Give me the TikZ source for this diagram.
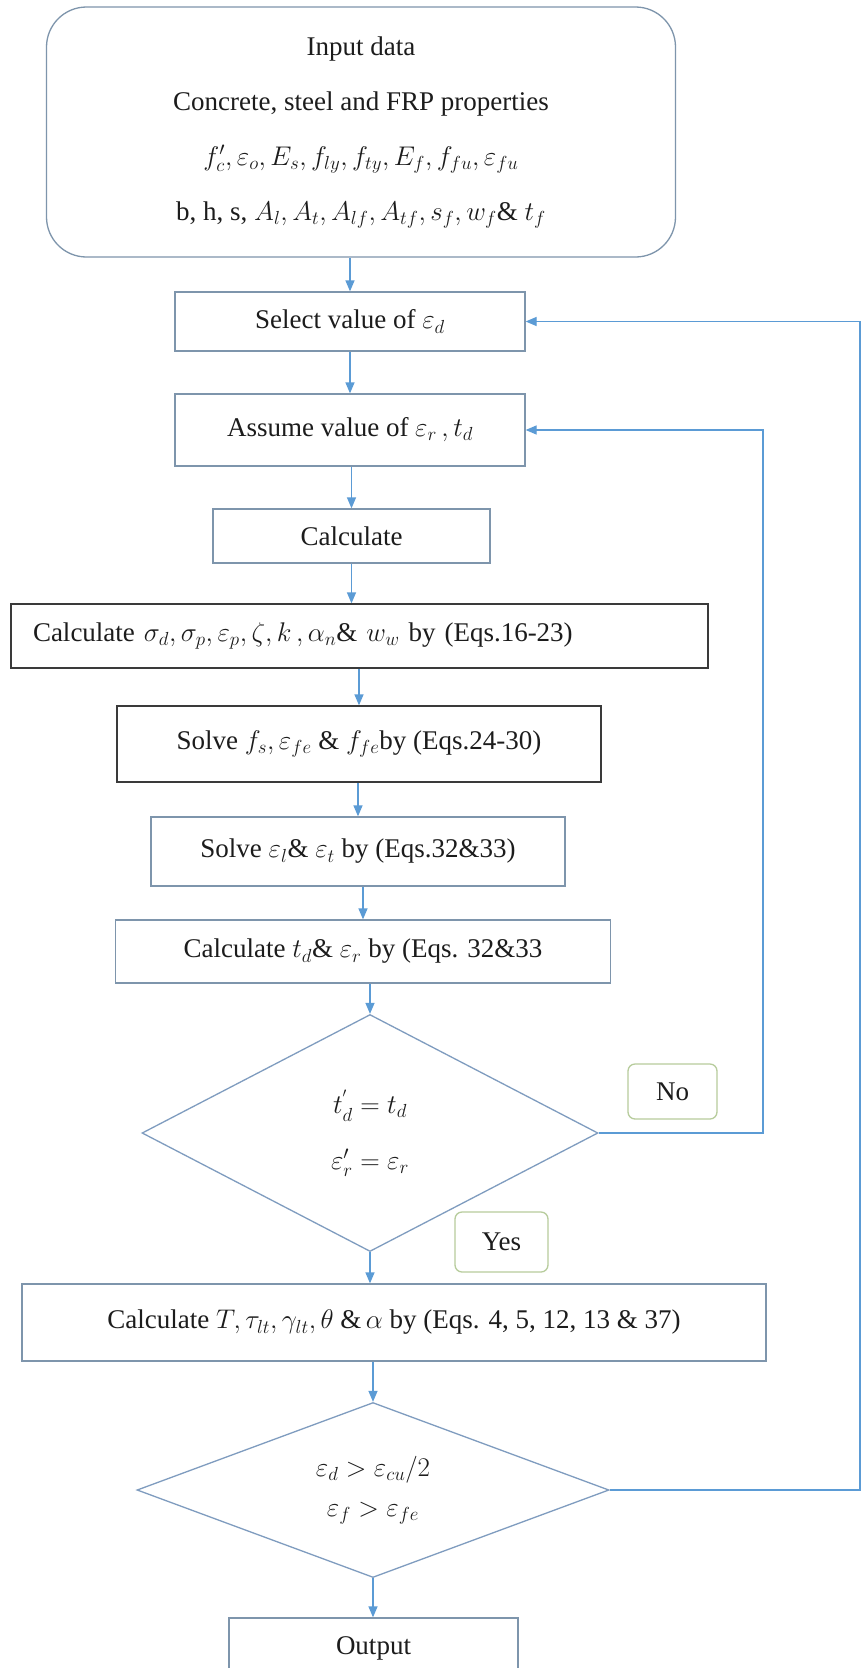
\documentclass[tikz,border=0pt]{standalone}
\usepackage{fix-cm}
\usepackage{fontspec}
\setmainfont{Liberation Serif}
\usepackage{amsmath}
\usepackage{tikz}
\usetikzlibrary{shapes.geometric, arrows.meta, positioning, backgrounds, calc}
\pgfdeclarelayer{arrows}
\pgfsetlayers{background,arrows,main}
\definecolor{flowblue}{HTML}{5B9BD5}
\definecolor{boxgray}{HTML}{7E95AC}
\definecolor{darkline}{HTML}{3A3A3A}
\definecolor{decgray}{HTML}{7F9CBF}
\definecolor{tagsage}{HTML}{B7CC9C}
\definecolor{inkblack}{HTML}{1C1C1C}
\tikzset{
  stepbox/.style={rectangle, draw=boxgray, line width=1.3pt, fill=white, text=inkblack,
    font=\fontsize{27}{34}\selectfont, align=center, inner sep=0pt},
  stepbox/dark/.style={stepbox, draw=darkline},
  inputbox/.style={stepbox, rounded corners=40pt, font=\fontsize{27}{55}\selectfont},
  dec/.style={diamond, aspect=1.9, draw=decgray, line width=1.3pt, fill=white, text=inkblack,
    align=center, inner sep=0pt},
  lbox/.style={rectangle, rounded corners=7pt, draw=tagsage, line width=1.3pt, fill=white,
    text=inkblack, font=\fontsize{27}{34}\selectfont, inner sep=0pt},
  ar/.style={-{Triangle[length=11pt,width=9pt]}, draw=flowblue, line width=1.3pt},
}

\begin{document}
\begin{tikzpicture}[x=1pt, y=-1pt]
\useasboundingbox (0,0) rectangle (865,1668);

\node[inputbox, minimum width=629pt, minimum height=250pt] (input) at (361,132)
  {Input data\\Concrete, steel and FRP properties\\
   $f_c', \varepsilon_o, E_s, f_{ly}, f_{ty}, E_f, f_{fu}, \varepsilon_{fu}$\\
   b, h, s, $A_l, A_t, A_{lf}, A_{tf}, s_f, w_f$\& $t_f$};

\node[stepbox, minimum width=350pt, minimum height=59pt] (select) at (350,321.5) {Select value of $\varepsilon_d$};
\node[stepbox, minimum width=350pt, minimum height=72pt] (assume) at (350,430) {Assume value of $\varepsilon_r\,, t_d$};
\node[stepbox, minimum width=277pt, minimum height=54pt] (calc) at (351.5,536) {Calculate};
\node[stepbox/dark, minimum height=64pt, text width=653pt, align=left, inner xsep=22pt] (calcsig) at (359.5,636)
  {Calculate $\sigma_d, \sigma_p, \varepsilon_p, \zeta, k\,, \alpha_n$\& $w_w$ by (Eqs.16-23)};
\node[stepbox/dark, minimum width=484pt, minimum height=76pt] (solvef) at (359,744)
  {Solve $f_s, \varepsilon_{fe}$ \& $f_{fe}$by (Eqs.24-30)};
\node[stepbox, minimum width=414pt, minimum height=69pt] (solvee) at (358,851.5)
  {Solve $\varepsilon_l$\& $\varepsilon_t$ by (Eqs.32\&33)};
\node[stepbox, minimum width=495pt, minimum height=63pt] (calctd) at (363,951.5)
  {Calculate $t_d$\& $\varepsilon_r$ by (Eqs. 32\&33};

\node[dec, minimum width=456pt, minimum height=237pt, font=\fontsize{27}{56}\selectfont] (dia1) at (370,1133)
  {$t_d^{'} = t_d$\\$\varepsilon_r' = \varepsilon_r$};
\node[lbox, minimum width=89pt, minimum height=55pt] (no) at (672.5,1091.5) {No};
\node[lbox, minimum width=93pt, minimum height=60pt] (yes) at (501.5,1242) {Yes};

\node[stepbox, minimum width=744pt, minimum height=77pt] (calct) at (394,1322.5)
  {Calculate $T, \tau_{lt}, \gamma_{lt}, \theta$ \&$\,\alpha$ by (Eqs. 4, 5, 12, 13 \& 37)};
\node[dec, minimum width=472pt, minimum height=175pt, font=\fontsize{27}{40}\selectfont] (dia2) at (373,1490)
  {$\varepsilon_d > \varepsilon_{cu}/2$\\$\varepsilon_f > \varepsilon_{fe}$};
\node[stepbox, minimum width=289pt, minimum height=60pt] (output) at (373.5,1648) {Output};

\coordinate (innerturn) at (763,430);
\coordinate (outerturn) at (860,321.5);

\begin{scope}[on background layer]
  \fill[white] (0,0) rectangle (865,1668);
\end{scope}

\begin{pgfonlayer}{arrows}
\draw[ar] (input.south -| select.north) -- (select.north);
\draw[ar] (select) -- (assume);
\draw[ar] (assume.south -| calc.north) -- (calc.north);
\draw[ar] (calc.south) -- (calc.south |- calcsig.north);
\draw[ar] (calcsig.south -| solvef.north) -- (solvef.north);
\draw[ar] (solvef.south -| solvee.north) -- (solvee.north);
\draw[ar] (solvee.south -| calctd.north) -- (calctd.north);
\draw[ar] (calctd.south -| dia1.north) -- (dia1.north);
\draw[ar] (dia1.south) -- (dia1.south |- calct.north);
\draw[ar] (calct.south -| dia2.north) -- (dia2.north);
\draw[ar] (dia2.south) -- (dia2.south |- output.north);
\draw[ar] (dia1.east) -| (innerturn) -- (assume.east);
\draw[ar] (dia2.east) -| (outerturn) -- (select.east);
\end{pgfonlayer}
\end{tikzpicture}
\end{document}
